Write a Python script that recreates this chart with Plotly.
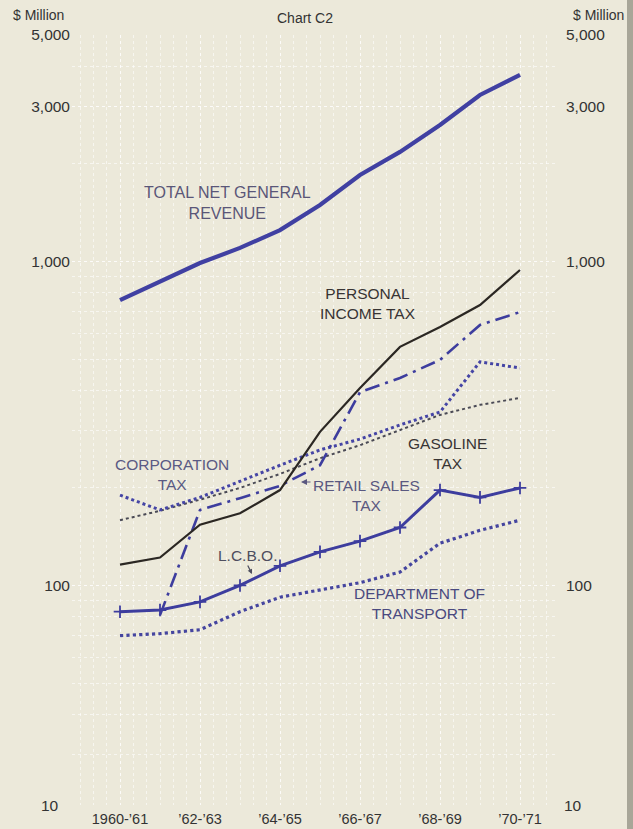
import math
import plotly.graph_objects as go

# Fiscal years on the horizontal axis
fiscal_years = ["1960-\u201961", "\u201961-\u201962", "\u201962-\u201963", "\u201963-\u201964",
                "\u201964-\u201965", "\u201965-\u201966", "\u201966-\u201967", "\u201967-\u201968",
                "\u201968-\u201969", "\u201969-\u201970", "\u201970-\u201971"]

# Revenue series, $ million
total_net_general_revenue = [760, 865, 989, 1101, 1250, 1494, 1849, 2178, 2637, 3265, 3764]
personal_income_tax = [116, 122, 154, 167, 197, 298, 407, 545, 628, 734, 941]
retail_sales_tax = [None, 81, 171, 186, 203, 235, 395, 437, 497, 637, 698]
corporation_tax = [190, 171, 187, 210, 235, 262, 283, 313, 343, 490, 469]
gasoline_tax = [159, 170, 184, 200, 221, 247, 271, 302, 336, 361, 379]
lcbo = [83, 84, 89, 100, 115, 127, 137, 151, 197, 187, 200]
department_of_transport = [70, 71, 73, 83, 92, 97, 102, 110, 135, 148, 159]

y_tick_vals = [100, 1000, 3000, 5000]
y_tick_text = ["100", "1,000", "3,000", "5,000"]
x_tick_idx = [0, 2, 4, 6, 8, 10]

x = list(range(len(fiscal_years)))

BG = "#ECE9DA"
BLUE = "#3d3d9e"
FONT = "Liberation Sans"
TXT = "#333333"

fig = go.Figure()

fig.add_trace(go.Scatter(x=x, y=department_of_transport, mode="lines",
                         line=dict(color="#45459f", width=3.2, dash="dot")))
fig.add_trace(go.Scatter(x=x, y=lcbo, mode="lines+markers",
                         line=dict(color=BLUE, width=3),
                         marker=dict(symbol="cross-thin-open", size=9,
                                     line=dict(color=BLUE, width=1.8))))
fig.add_trace(go.Scatter(x=x, y=gasoline_tax, mode="lines",
                         line=dict(color="#4a4a55", width=2, dash="dot")))
fig.add_trace(go.Scatter(x=x, y=corporation_tax, mode="lines",
                         line=dict(color="#4545a5", width=3, dash="dot")))
fig.add_trace(go.Scatter(x=x, y=retail_sales_tax, mode="lines",
                         line=dict(color=BLUE, width=2.6, dash="longdashdot")))
fig.add_trace(go.Scatter(x=x, y=personal_income_tax, mode="lines",
                         line=dict(color="#2b2723", width=2.2)))
fig.add_trace(go.Scatter(x=x, y=total_net_general_revenue, mode="lines",
                         line=dict(color="#4040a2", width=4.2)))

grid_col = "rgba(255,255,255,0.6)"
y_range = [math.log10(5000) - 770 / 324, math.log10(5000)]

fig.update_layout(
    width=633, height=829,
    margin=dict(l=72, r=75, t=35, b=24, autoexpand=False),
    paper_bgcolor=BG, plot_bgcolor=BG,
    showlegend=False,
    font=dict(family=FONT, color=TXT, size=14),
    xaxis=dict(range=[-1.2, 10.95], tickmode="array", tickvals=x_tick_idx,
               ticktext=[fiscal_years[i] for i in x_tick_idx], automargin=False,
               showgrid=True, gridcolor=grid_col, griddash="dot", gridwidth=1,
               minor=dict(dtick=1 / 3, tick0=0, showgrid=True, gridcolor=grid_col,
                          griddash="dot"),
               zeroline=False, showline=False, ticks="", ticklabelstandoff=3,
               tickfont=dict(size=14.5, color=TXT)),
    yaxis=dict(type="log", range=y_range, automargin=False,
               tickmode="array", tickvals=y_tick_vals, ticktext=y_tick_text,
               showgrid=True, gridcolor=grid_col, griddash="dot",
               minor=dict(dtick="D1", showgrid=True, gridcolor=grid_col, griddash="dot"),
               zeroline=False, showline=False, ticks="", ticklabelstandoff=1,
               tickfont=dict(size=15.5, color=TXT)),
    yaxis2=dict(type="log", range=y_range, automargin=False,
                overlaying="y", side="right", tickmode="array",
                tickvals=y_tick_vals, ticktext=y_tick_text, showgrid=False,
                zeroline=False, showline=False, ticks="", ticklabelstandoff=7,
                tickfont=dict(size=15.5, color=TXT)),
)

# empty trace so the right-hand axis is drawn
fig.add_trace(go.Scatter(x=[None], y=[None], yaxis="y2", hoverinfo="skip"))


def py_to_paper(py):
    return (829 - 24 - py) / 770


def px_to_paper(px):
    return (px - 72) / 486


def pos(px, py):
    # pixel centre -> (x index, log10 value)
    return (px - 120) / 40, math.log10(5000) - (py - 35) / 324


labels = [
    ("TOTAL NET GENERAL<br>REVENUE", 227, 203, "#5a5678", 16),
    ("PERSONAL<br>INCOME TAX", 368, 303, "#383434", 15.5),
    ("GASOLINE<br>TAX", 447, 453, "#383434", 15.5),
    ("CORPORATION<br>TAX", 172, 474, "#5a5a84", 15.5),
    ("RETAIL SALES<br>TAX", 366, 495, "#5a5880", 15.5),
    ("L.C.B.O.", 247, 555, "#4e4e5e", 15.5),
    ("DEPARTMENT OF<br>TRANSPORT", 419, 603, "#4a4a80", 15.5),
]
for text, cx, cy, col, size in labels:
    ax_, ay_ = pos(cx, cy)
    fig.add_annotation(x=ax_, y=ay_, text=text, showarrow=False,
                       xanchor="center", yanchor="middle",
                       font=dict(family=FONT, size=size, color=col), align="center")

# small pointer arrows
tip = pos(301, 482)
fig.add_annotation(x=tip[0], y=tip[1], text="", showarrow=True, arrowhead=2,
                   arrowsize=1, arrowwidth=1.2, arrowcolor="#5a5880", ax=11, ay=0)
tip2 = pos(252, 574)
fig.add_annotation(x=tip2[0], y=tip2[1], text="", showarrow=True, arrowhead=2,
                   arrowsize=0.8, arrowwidth=1.2, arrowcolor="#4e4e5e", ax=-5, ay=-10)

# headers and bottom scale labels
for text, cx, cy, size in [("$ Million", 38, 15, 14), ("$ Million", 598, 15, 14),
                           ("Chart C2", 305, 18, 14), ("10", 50, 805, 15.5),
                           ("10", 573, 805, 15.5)]:
    fig.add_annotation(xref="paper", yref="paper", x=px_to_paper(cx), y=py_to_paper(cy),
                       xanchor="center", yanchor="middle", text=text, showarrow=False,
                       font=dict(size=size, color=TXT))

# page edge on the right
fig.add_shape(type="rect", xref="paper", yref="paper",
              x0=px_to_paper(627), x1=px_to_paper(640), y0=-0.1, y1=1.1,
              fillcolor="#a8a698", line_width=0, layer="above")

fig.write_html("out.html")
